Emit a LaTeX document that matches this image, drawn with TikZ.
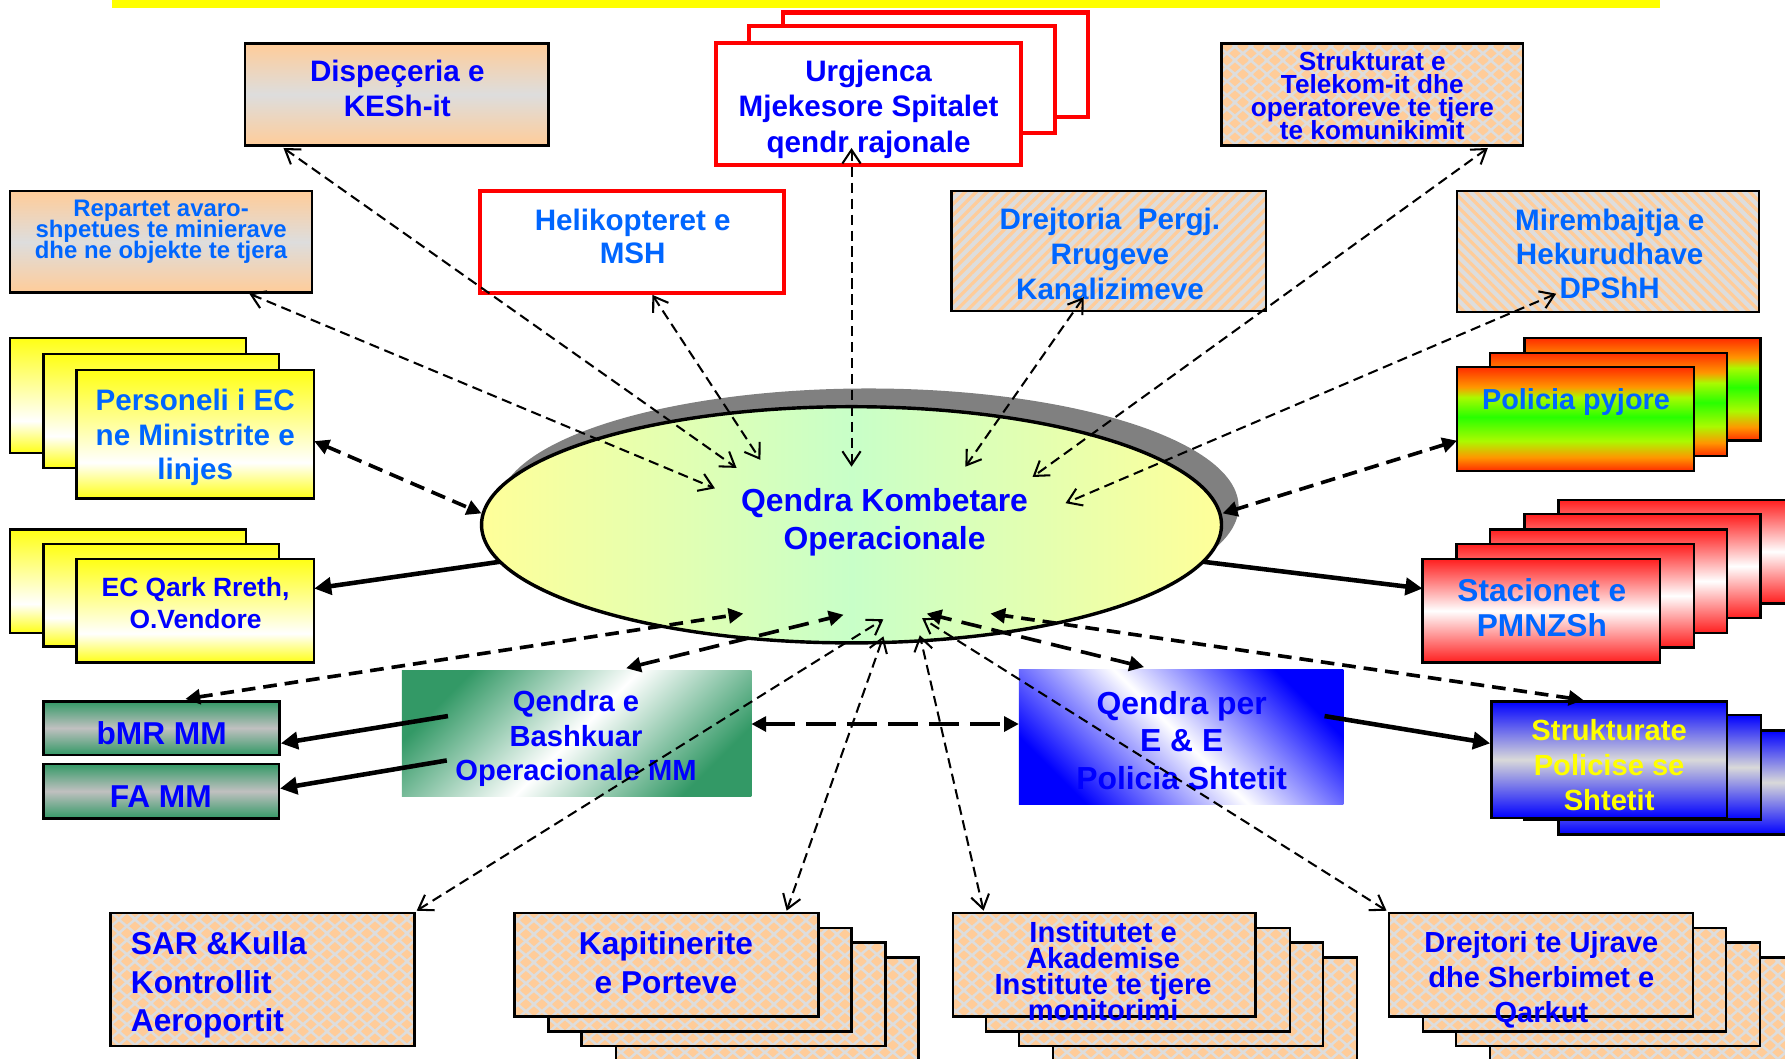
\documentclass[tikz,border=0pt]{standalone}
\usepackage{fontspec}
\setmainfont{Liberation Sans}
\usetikzlibrary{shapes.geometric,arrows.meta,calc,fit,patterns,patterns.meta}

\definecolor{dblue}{RGB}{0,0,255}
\definecolor{lblue}{RGB}{0,102,255}
\definecolor{peach}{RGB}{255,204,153}
\definecolor{lgray}{RGB}{221,221,221}
\definecolor{ylw}{RGB}{255,255,20}
\definecolor{seag}{RGB}{51,153,102}
\definecolor{mgray}{RGB}{192,192,192}
\definecolor{pred}{RGB}{255,45,0}
\definecolor{porange}{RGB}{255,150,0}
\definecolor{pyg}{RGB}{170,250,0}
\definecolor{pgreen}{RGB}{40,255,0}
\definecolor{sred}{RGB}{255,30,30}
\definecolor{pblue}{RGB}{0,0,255}
\definecolor{pgray}{RGB}{217,217,217}
\definecolor{ely}{RGB}{255,255,153}
\definecolor{elg}{RGB}{200,255,200}
\definecolor{shd}{RGB}{128,128,128}
\definecolor{rred}{RGB}{255,0,0}
\definecolor{tyel}{RGB}{255,255,0}

\pgfdeclareverticalshading{yelsh}{100bp}{color(0bp)=(ylw); color(25bp)=(ylw); color(39bp)=(white); color(75bp)=(ylw); color(100bp)=(ylw)}
\pgfdeclareverticalshading{polsh}{100bp}{color(0bp)=(pred); color(25bp)=(pred); color(31.5bp)=(porange); color(39.5bp)=(pyg); color(51bp)=(pgreen); color(60.5bp)=(pyg); color(65.5bp)=(porange); color(75bp)=(pred); color(100bp)=(pred)}

\newcommand\mydmd[2]{\pgfpathmoveto{\pgfpoint{#1-2.5pt}{#2}}\pgfpathlineto{\pgfpoint{#1}{#2+2.2pt}}\pgfpathlineto{\pgfpoint{#1+2.5pt}{#2}}\pgfpathlineto{\pgfpoint{#1}{#2-2.2pt}}\pgfpathclose}
\pgfdeclarepatternformonly{mydiamonds}{\pgfqpoint{0pt}{0pt}}{\pgfqpoint{7pt}{6pt}}{\pgfqpoint{7pt}{6pt}}{%
  \mydmd{0pt}{0pt}\mydmd{7pt}{0pt}\mydmd{0pt}{6pt}\mydmd{7pt}{6pt}\mydmd{3.5pt}{3pt}%
  \pgfusepath{fill}}

\newcommand{\myfs}[2]{\fontsize{#1pt}{#2pt}\selectfont\bfseries\lineskiplimit=-100pt\relax}

\begin{document}
\begin{tikzpicture}[x=0.5pt,y=-0.5pt,
  box/.style={draw=black, line width=1.1pt, inner sep=0pt, outer sep=0pt},
  rbox/.style={draw=rred, line width=1.8pt, fill=white, inner sep=0pt, outer sep=0pt},
  txt/.style={align=center, inner sep=0pt, outer sep=0pt, yshift=-1.25pt,
     execute at begin node={\vphantom{Áj}}, execute at end node={\vphantom{Áj}}},
  peachgrad/.style={box, top color=peach, bottom color=peach, middle color=lgray},
  yelbox/.style={box, shade, shading=yelsh, shading angle=0},
  polbox/.style={box, shade, shading=polsh, shading angle=0},
  stabox/.style={box, top color=sred, bottom color=sred, middle color=white},
  bluebox/.style={box, top color=pblue, bottom color=pblue, middle color=pgray},
  greenbox/.style={box, top color=seag, bottom color=seag, middle color=mgray},
  dmdbox/.style={box, preaction={fill=lgray}, pattern=mydiamonds, pattern color=peach},
  strbox/.style={box, preaction={fill=lgray}, pattern={Lines[angle=#1,distance=3.4pt,line width=1.4pt]}, pattern color=peach},
  tlink/.style={line width=0.9pt, dash pattern=on 4.5pt off 2.5pt, >={Straight Barb[length=6pt,width=8pt]}, <->},
  blink/.style={line width=1.6pt, >={Triangle[length=6.5pt,width=6.5pt]}, <->},
  slink/.style={line width=2pt, >={Triangle[length=7.5pt,width=7.5pt]}, ->}
]
\useasboundingbox (0,0) rectangle (1568,930);
\clip (0,0) rectangle (1568,930);

% top bar
\fill[tyel] (98,0) rectangle (1458,7);

% Dispeceria
\node[peachgrad, fit={(215,38) (482,128)}] (disp) {};
\node[txt, font=\myfs{13}{15.5}, text=dblue] (t-disp) at (349,77.5) {Dispeçeria e\\KESh-it};

% Urgjenca
\node[rbox, fit={(688,11) (956,103)}] (urg3) {};
\node[rbox, fit={(658,23) (927,117)}] (urg2) {};
\node[rbox, fit={(629,38) (897,145)}] (urg1) {};
\node[txt, font=\myfs{13}{15.5}, text=dblue] (t-urg) at (763,93.5) {Urgjenca\\Mjekesore Spitalet\\qendr rajonale};

% Telekom
\node[dmdbox, fit={(1073,38) (1338,128)}] (tel) {};
\node[txt, font=\myfs{11.5}{10.1}, text=dblue] (t-tel) at (1205.5,84) {Strukturat e\\Telekom-it dhe\\operatoreve te tjere\\te komunikimit};

% Repartet
\node[peachgrad, fit={(9,168) (274,257)}] (rep) {};
\node[txt, font=\myfs{10.5}{9.2}, text=lblue] (t-rep) at (141.5,201.4) {Repartet avaro-\\shpetues te minierave\\dhe ne objekte te tjera};

% Helikopteret
\node[rbox, fit={(422,168) (689,257)}] (heli) {};
\node[txt, font=\myfs{13}{14.8}, text=lblue] (t-heli) at (555.8,207.8) {Helikopteret e\\MSH};

% Drejtoria
\node[strbox=45, fit={(836,168) (1112,273)}] (drj) {};
\node[txt, font=\myfs{13}{15.4}, text=lblue] (t-drj) at (975,222.8) {Drejtoria\ \ Pergj.\\Rrugeve\\Kanalizimeve};

% Mirembajtja
\node[strbox=-45, fit={(1280,168) (1545,274)}] (mir) {};
\node[txt, font=\myfs{13}{15}, text=lblue] (t-mir) at (1414,223.3) {Mirembajtja e\\Hekurudhave\\DPShH};

% Personeli
\node[yelbox, fit={(9,297) (216,398)}] (pers3) {};
\node[yelbox, fit={(38,311) (245,411)}] (pers2) {};
\node[yelbox, fit={(67,325) (276,438)}] (pers1) {};
\node[txt, font=\myfs{13}{15}, text=lblue] (t-pers) at (171.5,381.7) {Personeli i EC\\ne Ministrite e\\linjes};

% EC Qark
\node[yelbox, fit={(9,465) (216,556)}] (ec3) {};
\node[yelbox, fit={(38,478) (245,568)}] (ec2) {};
\node[yelbox, fit={(67,491) (276,582)}] (ec1) {};
\node[txt, font=\myfs{11.6}{13.9}, text=dblue] (t-ec) at (171.8,529.4) {EC Qark Rreth,\\O.Vendore};

% central ellipse
\fill[shd] (763,445) ellipse [x radius=162.5pt, y radius=51.875pt];
\node[ellipse, draw=black, line width=1.5pt, inner sep=0pt, outer sep=0pt,
      left color=ely, right color=ely, middle color=elg,
      minimum width=325pt, minimum height=103.75pt] (qko) at (748,461) {};
\node[txt, font=\myfs{14}{16.8}, text=dblue] (t-qko) at (777,456.2) {Qendra Kombetare\\Operacionale};

% Policia pyjore
\node[polbox, fit={(1339,297) (1546.6,387)}] (pol3) {};
\node[polbox, fit={(1309,310) (1517,400.7)}] (pol2) {};
\node[polbox, fit={(1280,322.6) (1488,413.6)}] (pol1) {};
\node[txt, font=\myfs{12.7}{15}, text=lblue] (t-pol) at (1384.4,348.6) {Policia pyjore};

% Stacionet
\node[stabox, fit={(1369,439) (1577,530)}] (st5) {};
\node[stabox, fit={(1339,451.7) (1546.6,543)}] (st4) {};
\node[stabox, fit={(1309,465) (1517,556)}] (st3) {};
\node[stabox, fit={(1279.6,478) (1488,568.6)}] (st2) {};
\node[stabox, fit={(1249.6,491) (1458,582)}] (st1) {};
\node[txt, font=\myfs{13.9}{15.25}, text=lblue] (t-st) at (1354.4,533.8) {Stacionet e\\PMNZSh};

% bMR, FA
\node[greenbox, fit={(38,616) (245.7,663)}] (bmr) {};
\node[txt, font=\myfs{13.9}{15}, text=dblue] (t-bmr) at (142,642) {bMR MM};
\node[greenbox, fit={(38,671) (245,719)}] (fa) {};
\node[txt, font=\myfs{13.9}{15}, text=dblue] (t-fa) at (141.2,697) {FA MM};

% Qendra e Bashkuar
\node[shade, top color=seag, bottom color=seag, middle color=white, shading angle=45,
      inner sep=0pt, outer sep=0pt, fit={(353,589) (660,700)}] (bash) {};
\node[txt, font=\myfs{12.8}{15.35}, text=dblue] (t-bash) at (506,646.2) {Qendra e\\Bashkuar\\Operacionale MM};

% Qendra per
\node[shade, top color=pblue, bottom color=pblue, middle color=white, shading angle=-45,
      inner sep=0pt, outer sep=0pt, fit={(895,588) (1180,707)}] (qper) {};
\node[txt, font=\myfs{14}{16.5}, text=dblue] (t-qper) at (1038,650.7) {Qendra per\\E \& E\\Policia Shtetit};

% Strukturate Policise
\node[bluebox, fit={(1369,641.5) (1577,733)}] (sp3) {};
\node[bluebox, fit={(1339,628) (1547,720)}] (sp2) {};
\node[bluebox, fit={(1310,616) (1517,718.5)}] (sp1) {};
\node[txt, font=\myfs{12.8}{15.4}, text=tyel] (t-sp) at (1413.5,672.2) {Strukturate\\Policise se\\Shtetit};

% SAR
\node[dmdbox, fit={(97,802) (364,919)}] (sar) {};
\node[txt, align=left, anchor=west, font=\myfs{13.9}{16.8}, text=dblue] (t-sar) at (115,862.6) {SAR \&Kulla\\Kontrollit\\Aeroportit};

% Kapitinerite
\node[dmdbox, fit={(541,841) (807,945)}] (k4) {};
\node[dmdbox, fit={(511,828) (778,919)}] (k3) {};
\node[dmdbox, fit={(482,815) (748,906)}] (k2) {};
\node[dmdbox, fit={(452,802) (719,893)}] (k1) {};
\node[txt, font=\myfs{13.9}{16.8}, text=dblue] (t-kap) at (585,845.8) {Kapitinerite\\e Porteve};

% Institutet
\node[dmdbox, fit={(925,841) (1192,945)}] (i4) {};
\node[dmdbox, fit={(895,828) (1162,919)}] (i3) {};
\node[dmdbox, fit={(866,815) (1133,906)}] (i2) {};
\node[dmdbox, fit={(837,802) (1103,893)}] (i1) {};
\node[txt, font=\myfs{12.8}{11.4}, text=dblue] (t-inst) at (969,852.7) {Institutet e\\Akademise\\Institute te tjere\\monitorimi};

% Drejtori
\node[dmdbox, fit={(1309,841) (1576,945)}] (d4) {};
\node[dmdbox, fit={(1279,828) (1546,919)}] (d3) {};
\node[dmdbox, fit={(1250,815) (1516,906)}] (d2) {};
\node[dmdbox, fit={(1220,802) (1487,893)}] (d1) {};
\node[txt, font=\myfs{12.75}{15.4}, text=dblue] (t-dre) at (1354,858.5) {Drejtori te Ujrave\\dhe Sherbimet e\\Qarkut};

% ---- connectors: thin dashed
\draw[tlink] ($(disp.south west)+(34,2)$) -- ($(qko.center)+(-101,-50)$);
\draw[tlink] ($(rep.south west)+(210,1)$) -- ($(qko.center)+(-120,-32)$);
\draw[tlink] ($(heli.south)+(17.5,2)$) -- ($(qko.center)+(-80,-57)$);
\draw[tlink] ($(urg1.south)+(-15,-15)$) -- ($(qko.center)+(0,-51)$);
\draw[tlink] ($(drj.south)+(-22,-12)$) -- ($(qko.center)+(100,-51)$);
\draw[tlink] ($(tel.south east)+(-31,2)$) -- ($(qko.center)+(159,-42)$);
\draw[tlink] ($(mir.south west)+(87,-16)$) -- ($(qko.center)+(188,-19)$);
\draw[tlink] ($(sar.north east)+(2,-2)$) -- ($(qko.center)+(28,83)$);
\draw[tlink] ($(k1.north east)+(-28,-2)$) -- ($(qko.center)+(28,98)$);
\draw[tlink] ($(i1.north west)+(27,-2)$) -- ($(qko.center)+(60,97)$);
\draw[tlink] ($(d1.north west)+(-2,-2)$) -- ($(qko.center)+(62,82)$);

% ---- bold dashed
\draw[blink, dash pattern=on 6.5pt off 3.5pt] ($(pers1.east)+(0,6)$) -- ($(qko.west)+(0,-10)$);
\draw[blink, dash pattern=on 6.5pt off 3.5pt] ($(pol1.west)+(0,19)$) -- ($(qko.east)+(1,-10)$);
\draw[blink, dash pattern=on 6pt off 3.5pt] ($(bmr.north)+(21,-2)$) -- ($(qko.center)+(-95,78)$);
\draw[blink, dash pattern=on 9pt off 4.5pt] ($(bash.north)+(43.5,-2)$) -- ($(qko.center)+(-7,79)$);
\draw[blink, dash pattern=on 9pt off 4.5pt] ($(qper.north)+(-32.5,-2)$) -- ($(qko.center)+(66,78)$);
\draw[blink, dash pattern=on 6pt off 3.5pt] ($(sp1.north)+(-22.5,-1)$) -- ($(qko.center)+(122,78)$);
\draw[blink, line width=1.8pt, dash pattern=on 13pt off 5pt] ($(bash.east)+(0,-8.5)$) -- ($(qper.west)+(0,-11.5)$);

% ---- solid arrows
\draw[slink] (qko.186.5) -- ($(ec1.east)+(0,-19.5)$);
\draw[slink] (qko.354.3) -- ($(st1.west)+(0,-19.5)$);
\draw[slink] ($(bash.west)+(40.5,-15.5)$) -- ($(bmr.east)+(1,13.5)$);
\draw[slink] ($(bash.west)+(39.5,23.5)$) -- ($(fa.east)+(1,-2.3)$);
\draw[slink] ($(qper.east)+(-16.5,-18.5)$) -- ($(sp1.west)+(-1,-14.25)$);
\end{tikzpicture}
\end{document}
